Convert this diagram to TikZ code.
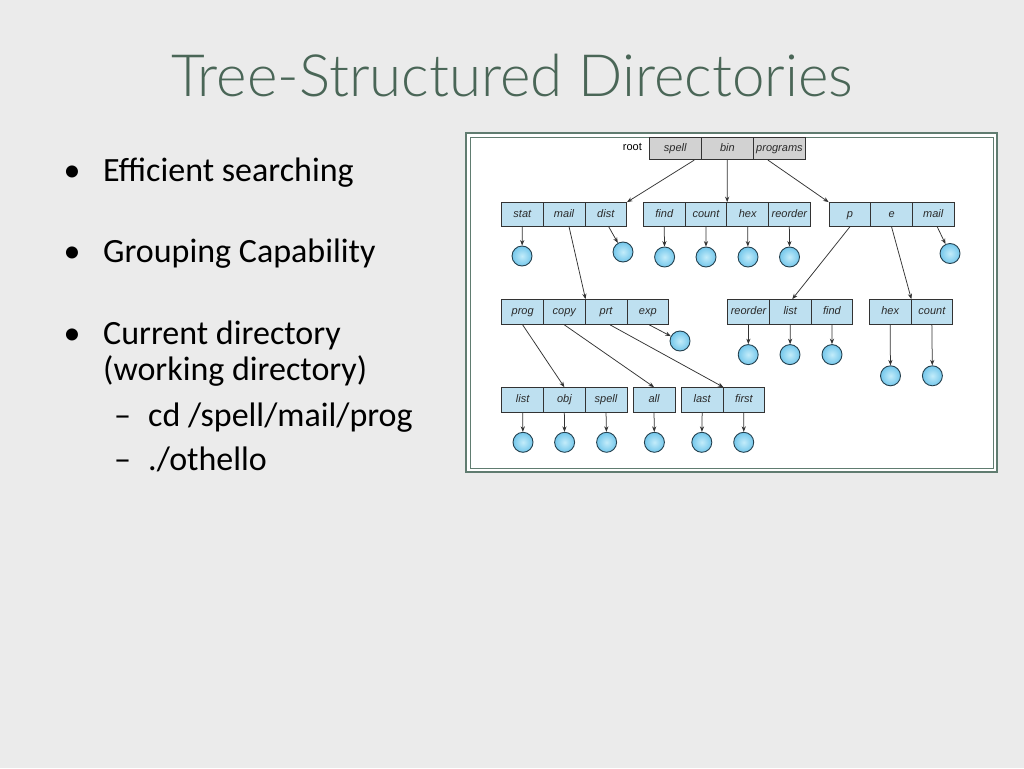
\documentclass[tikz,border=0pt]{standalone}
\usepackage{fontspec}
\setmainfont{Carlito}
\newfontfamily\helv{Liberation Sans}
\newfontfamily\titlefont{Lato Light}
\usetikzlibrary{arrows.meta}
\definecolor{bg}{HTML}{EBEBEB}
\definecolor{titlec}{HTML}{4A6657}
\definecolor{cellc}{HTML}{BEE0F0}
\definecolor{rootc}{HTML}{D2D2D2}
\definecolor{ballc}{HTML}{74C7EB}
\definecolor{ballin}{HTML}{C3ECFA}
\definecolor{ballline}{HTML}{24404E}
\definecolor{framec}{HTML}{607C70}
\definecolor{linec}{HTML}{333333}
\definecolor{celltext}{HTML}{2A2A2A}
\begin{document}
\begin{tikzpicture}[x=1pt,y=-1pt,
  cell/.style={draw=linec, line width=0.7pt, fill=cellc, minimum width=41.7pt, minimum height=24pt, inner sep=0pt, text height=8pt, text depth=2.3pt, text=celltext, font=\helv\itshape\fontsize{11}{11}\selectfont},
  rootcell/.style={cell, fill=rootc, minimum width=52.1pt, minimum height=22.5pt},
  ball/.style={circle, draw=ballline, line width=0.9pt, inner color=ballin, outer color=ballc, minimum size=20pt, inner sep=0pt},
  arr/.style={draw=linec, line width=0.75pt, -{Stealth[length=5.5pt,width=4.2pt]}},
  bodytext/.style={anchor=base west, inner sep=0pt, font=\fontsize{34}{34}\selectfont, text=black},
  bulletmark/.style={anchor=base, inner sep=0pt, font=\fontsize{34}{34}\selectfont, text=black}]
\fill[bg] (0,0) rectangle (1024,768);
\useasboundingbox (0,0) rectangle (1024,768);
% title
\node[anchor=base, inner sep=0pt, font=\titlefont\fontsize{58.3}{58.3}\selectfont, text=titlec] (title) at (512,96) {Tree-Structured Directories};
% bullets
\node[bulletmark] (b1) at (72,181) {•};
\node[bodytext] (t1) at (103,181) {Efficient searching};
\node[bulletmark] (b2) at (72,262) {•};
\node[bodytext] (t2) at (103,262) {Grouping Capability};
\node[bulletmark] (b3) at (72,344) {•};
\node[bodytext] (t3) at (103,344) {Current directory};
\node[bodytext] (t4) at (103,380) {(working directory)};
\node[bodytext] (d1) at (114,426) {–};
\node[bodytext] (t5) at (148,426) {cd /spell/mail/prog};
\node[bodytext] (d2) at (114,470) {–};
\node[bodytext] (t6) at (148,470) {./othello};
% frame
\draw[framec, line width=2pt, fill=white] (466,133) rectangle (997,472);
\draw[framec, line width=0.8pt] (470,137) rectangle (993,468);
% root row
\node[anchor=east, inner sep=0pt, font=\helv\fontsize{11}{11}\selectfont] (root) at (642,147) {root};
\node[rootcell] (spell) at (675.25,148.5) {spell};
\node[rootcell] (bin) at (727.35,148.5) {bin};
\node[rootcell] (programs) at (779.45,148.5) {programs};
% row 2
\node[cell] (stat) at (522.35,214.5) {stat};
\node[cell] (mail) at (564.05,214.5) {mail};
\node[cell] (dist) at (605.75,214.5) {dist};
\node[cell] (find) at (664.25,214.5) {find};
\node[cell] (count) at (705.95,214.5) {count};
\node[cell] (hex) at (747.65,214.5) {hex};
\node[cell] (reorder) at (789.35,214.5) {reorder};
\node[cell] (p) at (849.85,214.5) {p};
\node[cell] (e) at (891.55,214.5) {e};
\node[cell] (mailb) at (933.25,214.5) {mail};
% row 3
\node[cell, minimum height=25pt] (prog) at (522.65,312) {prog};
\node[cell, minimum height=25pt] (copy) at (564.35,312) {copy};
\node[cell, minimum height=25pt] (prt) at (606.05,312) {prt};
\node[cell, minimum height=25pt] (exp) at (647.75,312) {exp};
\node[cell, minimum height=25pt] (reorderb) at (748.55,312) {reorder};
\node[cell, minimum height=25pt] (listb) at (790.25,312) {list};
\node[cell, minimum height=25pt] (findb) at (831.95,312) {find};
\node[cell, minimum height=25pt] (hexb) at (890.15,312) {hex};
\node[cell, minimum height=25pt] (countb) at (931.85,312) {count};
% row 4
\node[cell, minimum height=25pt] (listc) at (522.65,400) {list};
\node[cell, minimum height=25pt] (obj) at (564.35,400) {obj};
\node[cell, minimum height=25pt] (spellc) at (606.05,400) {spell};
\node[cell, minimum height=25pt] (all) at (654.05,400) {all};
\node[cell, minimum height=25pt] (last) at (702.15,400) {last};
\node[cell, minimum height=25pt] (first) at (743.85,400) {first};
% leaf files
\node[ball] (f-stat) at (522,256) {};
\node[ball] (f-dist) at (623,252) {};
\node[ball] (f-find) at (664.6,257) {};
\node[ball] (f-count) at (706,257) {};
\node[ball] (f-hex) at (748,257) {};
\node[ball] (f-reorder) at (789.5,257) {};
\node[ball] (f-mailb) at (950,253.5) {};
\node[ball] (f-exp) at (680,341) {};
\node[ball] (f-reorderb) at (748.2,354.6) {};
\node[ball] (f-listb) at (790,354.6) {};
\node[ball] (f-findb) at (832,354.6) {};
\node[ball] (f-hexb) at (890.5,375.8) {};
\node[ball] (f-countb) at (932.4,375.8) {};
\node[ball] (f-listc) at (523,442.3) {};
\node[ball] (f-obj) at (564.6,442.3) {};
\node[ball] (f-spellc) at (606.6,442.3) {};
\node[ball] (f-all) at (654.4,442.3) {};
\node[ball] (f-last) at (701.8,442.3) {};
\node[ball] (f-first) at (743.7,442.3) {};
% directory links
\draw[arr] ([xshift=19pt]spell.south) -- (dist.north east);
\draw[arr] (bin.south) -- (count.north east);
\draw[arr] ([xshift=-11.5pt]programs.south) -- (p.north west);
\draw[arr] ([xshift=5pt]mail.south) -- (copy.north east);
\draw[arr] (p.south) -- ([xshift=2pt]listb.north);
\draw[arr] (e.south) -- (hexb.north east);
\draw[arr] (prog.south) -- (obj.north);
\draw[arr] (copy.south) -- (all.north);
\draw[arr] ([xshift=4pt]prt.south) -- (last.north east);
% file links
\draw[arr] (stat.south) -- (f-stat);
\draw[arr] ([xshift=3pt]dist.south) -- (f-dist);
\draw[arr] (find.south) -- (f-find);
\draw[arr] (count.south) -- (f-count);
\draw[arr] (hex.south) -- (f-hex);
\draw[arr] (reorder.south) -- (f-reorder);
\draw[arr] ([xshift=4pt]mailb.south) -- (f-mailb);
\draw[arr] ([xshift=1.5pt]exp.south) -- (f-exp);
\draw[arr] (reorderb.south) -- (f-reorderb);
\draw[arr] (listb.south) -- (f-listb);
\draw[arr] (findb.south) -- (f-findb);
\draw[arr] (hexb.south) -- (f-hexb);
\draw[arr] (countb.south) -- (f-countb);
\draw[arr] (listc.south) -- (f-listc);
\draw[arr] (obj.south) -- (f-obj);
\draw[arr] (spellc.south) -- (f-spellc);
\draw[arr] (all.south) -- (f-all);
\draw[arr] (last.south) -- (f-last);
\draw[arr] (first.south) -- (f-first);
\end{tikzpicture}
\end{document}
